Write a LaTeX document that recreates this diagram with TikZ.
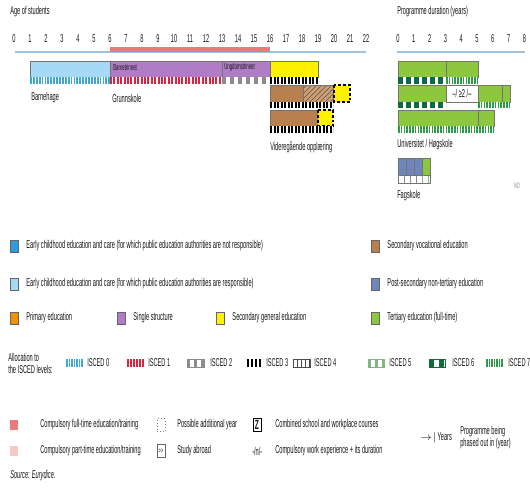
\documentclass[tikz,border=0pt]{standalone}
\usepackage{fontspec}
\setmainfont{Liberation Sans}[FakeStretch=0.5]
\usetikzlibrary{positioning}

\definecolor{ecec}{HTML}{A6DAF4}
\definecolor{ececnr}{HTML}{2E9BE0}
\definecolor{single}{HTML}{B07CC6}
\definecolor{secgen}{HTML}{FFF100}
\definecolor{secvoc}{HTML}{B8804E}
\definecolor{postsec}{HTML}{6E86BA}
\definecolor{tert}{HTML}{8DC63F}
\definecolor{prim}{HTML}{F39200}
\definecolor{compft}{HTML}{E87C7C}
\definecolor{comppt}{HTML}{F6C9C9}
\definecolor{axisline}{HTML}{9DC3E0}
\definecolor{iscedzero}{HTML}{3FA9D6}
\definecolor{iscedone}{HTML}{D7263D}
\definecolor{iscedtwo}{HTML}{8C8C8C}
\definecolor{iscedfive}{HTML}{7FB77E}
\definecolor{iscedsix}{HTML}{0E6B3A}
\definecolor{iscedseven}{HTML}{2E9A47}

\tikzset{
      lbl/.style={anchor=west, inner sep=0pt},
      small/.style={anchor=west, inner sep=0pt, font=\fontsize{6.5}{7}\selectfont},
      tick/.style={inner sep=0pt},
      bar/.style={draw=black!55, line width=0.3pt},
      extra/.style={draw=black, line width=0.9pt, dash pattern=on 2.2pt off 1.5pt, fill=secgen},
      key/.style={draw=black!60, line width=0.3pt, minimum width=6pt, minimum height=9pt, inner sep=0pt},
}

% stripes of an ISCED level: from, to, top, bottom, colour, period, bar width
\newcommand{\isced}[7]{%
  \begin{scope}
    \clip (#1,#3) rectangle (#2,#4);
    \fill[white] (#1,#3) rectangle (#2,#4);
    \pgfmathsetmacro\isnext{#1+#6}
    \foreach \s in {#1,\isnext,...,#2}
      \fill[#5] (\s,#3) rectangle ({\s+#7},#4);
  \end{scope}}

\begin{document}
\begin{tikzpicture}[x=0.75pt, y=-0.75pt, font=\fontsize{8.5}{9}\selectfont, text=black!92]
        \useasboundingbox (0,0) rectangle (530,490);

        % Axes
        \node[lbl] (agetitle) at (10,12) {Age of students};
        \node[lbl] (durtitle) at (397,12) {Programme duration (years)};
        \foreach \a in {0,...,22}
            \node[tick] (age\a) at ({14+16*\a},39) {\a};
        \foreach \d in {0,...,8}
            \node[tick] (dur\d) at ({398+15.8*\d},39) {\d};
        \draw[axisline, line width=0.8pt] (15,52) -- (366,52);
        \draw[axisline, line width=0.8pt] (397,52) -- (525,52);
        \fill[compft] (110,47) rectangle (270,52);

        % Barnehage and Grunnskole
        \draw[bar, fill=ecec] (30,61) rectangle (110,77);
        \draw[bar, fill=single] (110,61) rectangle (270,77);
        \draw[bar] (222,61) -- (222,77);
        \draw[bar, fill=secgen] (270,61) rectangle (318,77);
        \isced{30}{110}{77}{84}{iscedzero}{2.9}{1.8}
        \isced{110}{222}{77}{84}{iscedone}{3.4}{2}
        \isced{222}{270}{77}{84}{iscedtwo}{8}{4}
        \isced{270}{318}{77}{84}{black}{3.5}{2}
        \node[small] (barnetrinnet) at (113,67) {Barnetrinnet};
        \node[small] (ungdomstrinnet) at (224,67) {Ungdomstrinnet};
        \node[lbl] (barnehage) at (31,98) {Barnehage};
        \node[lbl] (grunnskole) at (112,98) {Grunnskole};

        % Videregaende opplaering, vocational
        \draw[bar, fill=secvoc] (270,85) rectangle (303,102);
        \begin{scope}
            \clip (303,85) rectangle (333,102);
            \fill[secvoc!75] (303,85) rectangle (333,102);
            \foreach \h in {285,290,...,335}
                \draw[secvoc!60!black, line width=0.4pt] (\h,102) -- ++(17,-17);
        \end{scope}
        \draw[bar] (303,85) rectangle (333,102);
        \draw[extra] (334,85) rectangle (350,102);
        \isced{270}{333}{102}{108}{black}{3.5}{2}
        \draw[bar, fill=secvoc] (270,110) rectangle (318,126);
        \draw[extra] (318,110) rectangle (333,126);
        \isced{270}{333}{126}{133}{black}{3.5}{2}
        \node[lbl] (vgo) at (270,147) {Videregående opplæring};

        % Universitet / Hogskole
        \draw[bar, fill=tert] (398,61) rectangle (478,77);
        \draw[bar] (446,61) -- (446,77);
        \isced{398}{446}{77}{84}{iscedsix}{8}{4.5}
        \isced{446}{478}{77}{84}{iscedseven}{2.8}{1.5}
        \draw[bar, fill=tert] (398,85) rectangle (446,102);
        \draw[bar, fill=white] (446,85) rectangle (478,102);
        \node (work) at (462,93.5) {–/ ≥2 /–};
        \draw[bar, fill=tert] (478,85) rectangle (510,102);
        \draw[bar] (502,85) -- (502,102);
        \isced{398}{446}{102}{108}{iscedsix}{8}{4.5}
        \isced{478}{510}{102}{108}{iscedseven}{2.8}{1.5}
        \draw[bar, fill=tert] (398,110) rectangle (494,126);
        \draw[bar] (478,110) -- (478,126);
        \isced{398}{494}{126}{133}{iscedseven}{2.8}{1.5}
        \node[lbl] (uni) at (397,145) {Universitet / Høgskole};

        % Fagskole
        \draw[bar, fill=postsec] (398,158) rectangle (422,175);
        \draw[bar] (406,158) -- (406,175);
        \draw[bar] (414,158) -- (414,175);
        \draw[bar, fill=tert] (422,158) rectangle (430,175);
        \isced{398}{422}{175}{183}{black!45}{6}{0.8}
        \isced{422}{430}{175}{183}{iscedfive}{6}{0.8}
        \draw[bar] (398,175) rectangle (430,183);
        \node[lbl] (fagskole) at (397,196) {Fagskole};
        \node[text=black!45, font=\fontsize{6}{6}\selectfont] (country) at (517,186) {NO};

        % Legend, categories
        \node[key, fill=ececnr] (kececnr) at (14,246) {};
        \node[lbl, right=6pt of kececnr] (tececnr) {Early childhood education and care (for which public education authorities are not responsible)};
        \node[key, fill=ecec] (kecec) at (14,284) {};
        \node[lbl, right=6pt of kecec] (tecec) {Early childhood education and care (for which public education authorities are responsible)};
        \node[key, fill=prim] (kprim) at (14,318) {};
        \node[lbl, right=6pt of kprim] (tprim) {Primary education};
        \node[key, fill=single] (ksingle) at (121,318) {};
        \node[lbl, right=6pt of ksingle] (tsingle) {Single structure};
        \node[key, fill=secgen] (ksecgen) at (220,318) {};
        \node[lbl, right=6pt of ksecgen] (tsecgen) {Secondary general education};
        \node[key, fill=secvoc] (ksecvoc) at (375,246) {};
        \node[lbl, right=6pt of ksecvoc] (tsecvoc) {Secondary vocational education};
        \node[key, fill=postsec] (kpostsec) at (375,284) {};
        \node[lbl, right=6pt of kpostsec] (tpostsec) {Post-secondary non-tertiary education};
        \node[key, fill=tert] (ktert) at (375,318) {};
        \node[lbl, right=6pt of ktert] (ttert) {Tertiary education (full-time)};

        % Legend, ISCED levels
        \node[lbl, align=left] (alloc) at (8,363) {Allocation to\\the ISCED levels:};
        \isced{66}{83}{359}{367}{iscedzero}{2.5}{1.5}
        \node[lbl] (lzero) at (87,363) {ISCED 0};
        \isced{127}{144}{359}{367}{iscedone}{3}{1.8}
        \node[lbl] (lone) at (148,363) {ISCED 1};
        \isced{187}{204}{359}{367}{iscedtwo}{7}{2.5}
        \draw[iscedtwo, line width=0.4pt] (187,359) rectangle (204,367);
        \node[lbl] (ltwo) at (210,363) {ISCED 2};
        \isced{247}{262}{359}{367}{black}{4}{2.2}
        \node[lbl] (lthree) at (266,363) {ISCED 3};
        \isced{293}{310}{359}{367}{black!70}{4}{0.7}
        \draw[black!70, line width=0.4pt] (293,359) rectangle (310,367);
        \node[lbl] (lfour) at (314,363) {ISCED 4};
        \isced{368}{384}{359}{367}{iscedfive}{7}{3}
        \draw[iscedfive, line width=0.4pt] (368,359) rectangle (384,367);
        \node[lbl] (lfive) at (389,363) {ISCED 5};
        \isced{429}{445}{359}{367}{iscedsix}{10}{5}
        \draw[iscedsix, line width=0.4pt] (429,359) rectangle (445,367);
        \node[lbl] (lsix) at (452,363) {ISCED 6};
        \isced{486}{503}{359}{367}{iscedseven}{2.5}{1.5}
        \node[lbl] (lseven) at (508,363) {ISCED 7};

        % Legend, other signs
        \node[key, draw=none, fill=compft, minimum height=7pt] (kft) at (14,425) {};
        \node[lbl] (tft) at (40,425) {Compulsory full-time education/training};
        \node[key, draw=none, fill=comppt, minimum height=7pt] (kpt) at (14,451) {};
        \node[lbl] (tpt) at (40,451) {Compulsory part-time education/training};
        \node[key, draw=black!50, dotted, minimum height=10pt] (kadd) at (161,425) {};
        \node[lbl] (tadd) at (177,425) {Possible additional year};
        \node[key, minimum height=10pt, font=\fontsize{6}{6}\selectfont] (kabroad) at (161,451) {>{}>};
        \node[lbl] (tabroad) at (177,451) {Study abroad};
        \node[key, draw=black, line width=0.5pt, minimum height=10pt, font=\fontsize{10}{10}\selectfont\bfseries] (kz) at (257,425) {Z};
        \node[lbl] (tz) at (275,425) {Combined school and workplace courses};
        \node[lbl] (kwork) at (252,451) {-/n/-};
        \node[lbl] (twork) at (275,451) {Compulsory work experience + its duration};
        \node[lbl] (kyears) at (420,438) {$\rightarrow\!|$ Years};
        \node[lbl, align=left] (tphased) at (460,438) {Programme being\\phased out in (year)};
        \node[lbl] (source) at (10,476) {\itshape Source: Eurydice.};
\end{tikzpicture}
\end{document}
